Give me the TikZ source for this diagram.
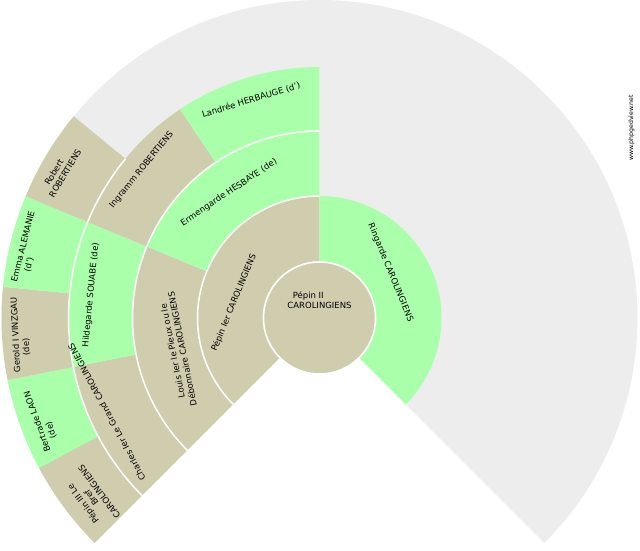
\documentclass[tikz,border=0pt]{standalone}
\usepackage{fontspec}
\setmainfont{DejaVu Sans}
\usepackage{xcolor}

\definecolor{fanTan}{RGB}{208,205,174}
\definecolor{fanGreen}{RGB}{170,255,170}
\definecolor{fanGrey}{RGB}{237,237,237}

\newcommand{\fansector}[5]{%
  \fill[fill=#1] (#2:#4) arc[start angle=#2, end angle=#3, radius=#4]
    -- (#3:#5) arc[start angle=#3, end angle=#2, radius=#5] -- cycle;
  \draw[ringline] (#2:#4) arc[start angle=#2, end angle=#3, radius=#4];}
\newcommand{\lpad}[1]{\hspace*{#1\fontdimen2\font}}

\tikzset{
  ringline/.style={draw=white, line width=1.5pt},
  lbl/.style={font=\fontsize{8.5}{10}\selectfont, inner sep=0pt, align=center},
}

\begin{document}
\begin{tikzpicture}

\useasboundingbox (-319.5pt,-232pt) rectangle (320.5pt,318pt);
\fill[fanGrey] (0,0) -- (-45:318pt) arc[start angle=-45, end angle=225, radius=318pt] -- cycle;

\foreach \c/\a/\b/\ri/\ro in {fanTan/90/225/56/122, fanGreen/-45/90/56/122,
    fanTan/157.5/225/122/187, fanGreen/90/157.5/122/187,
    fanTan/191.25/225/187/251, fanGreen/157.5/191.25/187/251,
    fanTan/123.75/157.5/187/251, fanGreen/90/123.75/187/251,
    fanTan/208.125/225/251/318, fanGreen/191.25/208.125/251/318,
    fanTan/174.375/191.25/251/318, fanGreen/157.5/174.375/251/318,
    fanTan/140.625/157.5/251/318}
  \fansector{\c}{\a}{\b}{\ri pt}{\ro pt};

\draw[ringline, fill=fanTan] (0,0) circle[radius=56pt];

\node[lbl, align=left] (pepinII) at (0,17.5pt) {\lpad{2}Pépin II\\CAROLINGIENS};
\node[lbl, rotate=67.5] (pepinI) at (169.7:86.9pt) {Pépin Ier CAROLINGIENS};
\node[lbl, rotate=-67.5] (ringarde) at (32.6:84.3pt) {Ringarde CAROLINGIENS};
\node[lbl, rotate=101.25] (louis) at (192.7:145.6pt) {Louis Ier le Pieux ou le\\Débonnaire CAROLINGIENS};
\node[lbl, rotate=33.75] (ermengarde) at (125.8:154.7pt) {Ermengarde HESBAYE (de)};
\node[lbl, rotate=118.1] (charles) at (203.8:232.6pt) {Charles Ier Le Grand CAROLINGIENS};
\node[lbl, rotate=84.4] (hildegarde) at (174.25:229.7pt) {Hildegarde SOUABE (de)};
\node[lbl, rotate=50.6] (ingramm) at (140.25:231.5pt) {Ingramm ROBERTIENS};
\node[lbl, rotate=16.9] (landree) at (107.4:228.5pt) {Landrée HERBAUGE (d')};
\node[lbl, align=left, rotate=59.1] (robert) at (150.35:297.8pt) {\lpad{3}Robert\\ROBERTIENS};
\node[lbl, align=left, rotate=75.9] (emma) at (166.5:299.6pt) {Emma ALEMANIE\\\lpad{5}(d')};
\node[lbl, align=left, rotate=92.8] (gerold) at (183.2:299.2pt) {Gerold I VINZGAU\\\lpad{6}(de)};
\node[lbl, align=left, rotate=109.7] (bertrade) at (200.2:295.5pt) {Bertrade LAON\\\lpad{4}(de)};
\node[lbl, rotate=126.6] (pepinIII) at (218.2:290.7pt) {Pépin III Le\\Bref\\CAROLINGIENS};
\node[font=\fontsize{6.2}{7}\selectfont, rotate=90, inner sep=0pt] (site) at (312pt,190pt) {www.phpgedview.net};

\end{tikzpicture}
\end{document}
